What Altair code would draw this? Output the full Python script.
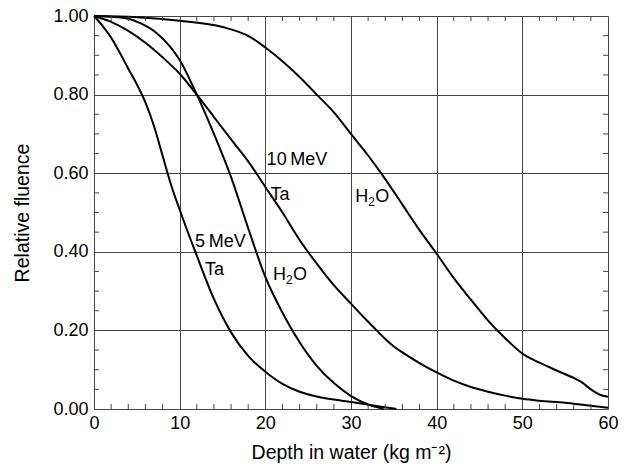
import altair as alt
import pandas as pd

# Curves: depth (kg m^-2) and relative fluence
ta5_x = [0, 1, 2, 3, 4, 5, 6, 7, 8, 9, 10, 12, 14, 16, 18, 20, 22, 24, 26, 28, 30, 32, 33.7, 35.3]
ta5_y = [1.0, 0.975, 0.945, 0.907, 0.866, 0.826, 0.78, 0.72, 0.645, 0.57, 0.507, 0.39, 0.28, 0.195, 0.135, 0.095, 0.064, 0.044, 0.032, 0.024, 0.018, 0.011, 0.005, 0.0]

h2o5_x = [0, 2, 4, 5.4, 7.3, 10, 12, 14, 16, 18, 20, 22, 24, 26, 28, 30, 32.2, 33.8]
h2o5_y = [1.0, 0.998, 0.993, 0.982, 0.957, 0.888, 0.80, 0.70, 0.59, 0.46, 0.336, 0.245, 0.17, 0.11, 0.066, 0.033, 0.01, 0.0]

ta10_x = [0, 2, 4, 6, 8, 10, 12, 14, 16, 18, 20, 22, 24, 26, 28, 30, 32, 33, 34, 35, 36, 37, 38, 40, 42, 44, 46, 48, 50, 52, 55, 57, 60]
ta10_y = [1.0, 0.985, 0.962, 0.932, 0.895, 0.853, 0.80, 0.743, 0.686, 0.63, 0.565, 0.50, 0.43, 0.37, 0.315, 0.268, 0.222, 0.20, 0.178, 0.159, 0.144, 0.13, 0.117, 0.093, 0.072, 0.056, 0.044, 0.034, 0.026, 0.021, 0.016, 0.011, 0.003]

h2o10_x = [0, 5, 10, 15, 18.2, 20, 22, 24, 26, 28, 30, 32, 34, 36, 38, 40, 42, 44, 46, 48, 50, 52, 54, 56, 57, 58, 59, 60]
h2o10_y = [1.0, 0.997, 0.988, 0.972, 0.947, 0.92, 0.885, 0.845, 0.80, 0.755, 0.70, 0.645, 0.585, 0.52, 0.455, 0.395, 0.333, 0.278, 0.225, 0.18, 0.141, 0.118, 0.098, 0.079, 0.067, 0.05, 0.037, 0.031]

# Annotation labels
label_text = ["10\u2009MeV", "Ta", "5\u2009MeV", "Ta"]
label_x = [20.15, 20.6, 11.8, 12.95]
label_y = [0.634, 0.545, 0.425, 0.354]

# H2O labels (drawn as H, subscript 2, O)
h2o_x = [30.5, 20.9]
h2o_y = [0.54, 0.341]

# Minor tick positions
xminor = [v for v in range(2, 60, 2) if v % 10 != 0]
yminor = [round(0.05 * i, 2) for i in range(1, 20) if i % 4 != 0]

rows = []
for name, xs, ys in [("ta5", ta5_x, ta5_y), ("h2o5", h2o5_x, h2o5_y),
                     ("ta10", ta10_x, ta10_y), ("h2o10", h2o10_x, h2o10_y)]:
    for i, (a, b) in enumerate(zip(xs, ys)):
        rows.append({"curve": name, "x": a, "y": b, "o": i})
df = pd.DataFrame(rows)

lab = pd.DataFrame({"t": label_text, "x": label_x, "y": label_y})
h2o = pd.DataFrame({"x": h2o_x, "y": h2o_y})
xt = pd.DataFrame({"x": xminor})
yt = pd.DataFrame({"y": yminor})

W, H = 514, 393
FONT = "Liberation Sans"
FS = 18
TFS = 19.5

xscale = alt.Scale(domain=[0, 60], nice=False, zero=False)
yscale = alt.Scale(domain=[0, 1], nice=False)

xaxis = alt.Axis(values=[0, 10, 20, 30, 40, 50, 60], title="Depth in water (kg m\u207b\u00b2)",
                 grid=True, gridColor="#444444", gridWidth=1, gridOpacity=1,
                 ticks=False, domain=False, labelFontSize=FS, labelColor="black",
                 labelFont=FONT, labelPadding=5, titleFont=FONT, titleFontSize=TFS,
                 titleFontWeight="normal", titleColor="black", titlePadding=11,
                 labelFlush=False)
yaxis = alt.Axis(values=[0, 0.2, 0.4, 0.6, 0.8, 1.0], format=".2f", title="Relative fluence",
                 grid=True, gridColor="#444444", gridWidth=1, gridOpacity=1,
                 ticks=False, domain=False, labelFontSize=FS, labelColor="black",
                 labelFont=FONT, labelPadding=6, titleFont=FONT, titleFontSize=TFS,
                 titleFontWeight="normal", titleColor="black", titlePadding=20)

lines = alt.Chart(df).mark_line(color="black", strokeWidth=2, interpolate="monotone").encode(
    x=alt.X("x:Q", scale=xscale, axis=xaxis),
    y=alt.Y("y:Q", scale=yscale, axis=yaxis),
    detail="curve:N",
    order="o:Q",
)

def txt(data, text, dx=0, dy=0, size=FS):
    return alt.Chart(data).mark_text(align="left", baseline="middle", fontSize=size, font=FONT,
                                     color="black", dx=dx, dy=dy).encode(
        x=alt.X("x:Q", scale=xscale), y=alt.Y("y:Q", scale=yscale), text=text)

labels = txt(lab, "t:N")
h_lab = txt(h2o, alt.value("H"))
two_lab = txt(h2o, alt.value("2"), dx=13, dy=5, size=12)
o_lab = txt(h2o, alt.value("O"), dx=20)

tk = 5
tcol = "#444444"
xb = alt.Chart(xt).mark_rule(color=tcol, strokeWidth=1).encode(
    x=alt.X("x:Q", scale=xscale), y=alt.value(H), y2=alt.value(H - tk))
xtp = alt.Chart(xt).mark_rule(color=tcol, strokeWidth=1).encode(
    x=alt.X("x:Q", scale=xscale), y=alt.value(0), y2=alt.value(tk))
yl = alt.Chart(yt).mark_rule(color=tcol, strokeWidth=1).encode(
    y=alt.Y("y:Q", scale=yscale), x=alt.value(0), x2=alt.value(tk))
yr = alt.Chart(yt).mark_rule(color=tcol, strokeWidth=1).encode(
    y=alt.Y("y:Q", scale=yscale), x=alt.value(W), x2=alt.value(W - tk))

chart = alt.layer(lines, xb, xtp, yl, yr, labels, h_lab, two_lab, o_lab).properties(
    width=W, height=H,
    autosize=alt.AutoSizeParams(type="none"),
    padding={"left": 94, "top": 16, "right": 20, "bottom": 61},
).configure_view(stroke="#333333", strokeWidth=1.5).configure(background="white")

chart.save("out.html", embed_options={"renderer": "svg", "actions": False})
